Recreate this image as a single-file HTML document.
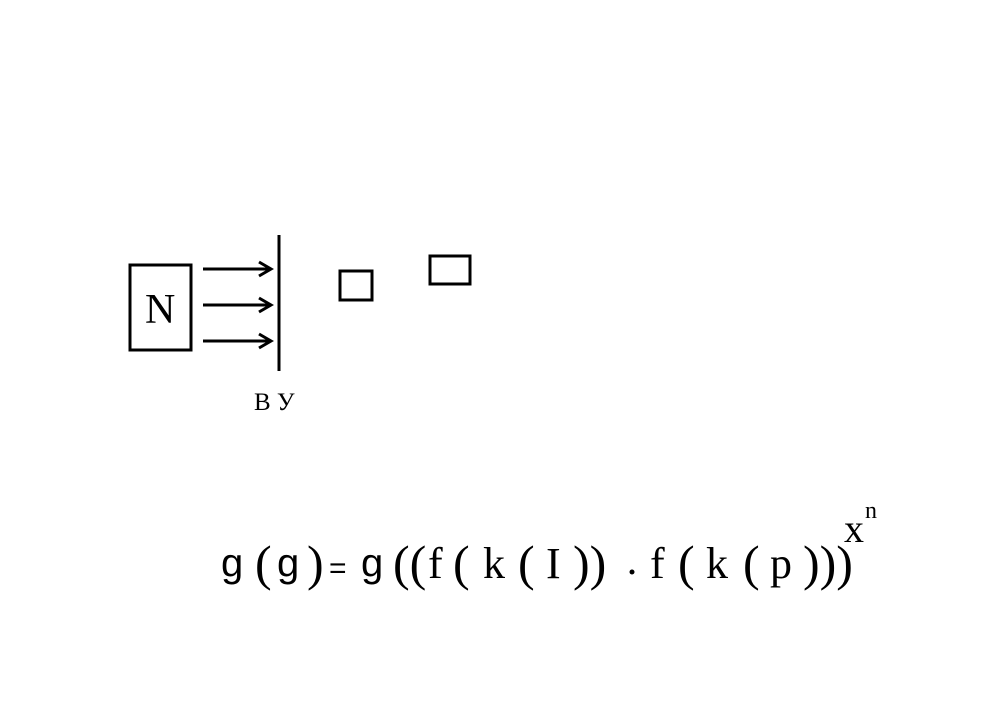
<!DOCTYPE html>
<html><head><meta charset="utf-8"><style>body{margin:0;background:#fff}svg{display:block}</style></head>
<body>
<svg width="1000" height="720" xmlns="http://www.w3.org/2000/svg">
<rect width="1000" height="720" fill="#fff"/>
<g fill="none" stroke="#000" stroke-width="3">
<rect x="130" y="265" width="61" height="85"/>
<line x1="279" y1="235" x2="279" y2="371"/>
<rect x="340" y="271" width="32" height="29"/>
<rect x="430" y="256" width="40" height="28"/>
<line x1="203" y1="269" x2="270" y2="269"/>
<line x1="203" y1="305" x2="270" y2="305"/>
<line x1="203" y1="341" x2="270" y2="341"/>
<polyline points="259,262 271,269 259,276"/>
<polyline points="259,298 271,305 259,312"/>
<polyline points="259,334 271,341 259,348"/>
</g>
<g font-family="Liberation Serif, serif" fill="#000">
<text x="145" y="323" font-size="42">N</text>
<text x="254" y="410" font-size="25">В У</text>
</g>
<g font-family="Liberation Sans, sans-serif" font-size="40" fill="#000">
<text x="221" y="576">g</text>
<text x="277" y="576">g</text>
<text x="361" y="576">g</text>
<text x="329" y="578" font-size="30">=</text>
</g>
<g font-family="Liberation Serif, serif" font-size="50" fill="#000">
<text x="255" y="580">(</text>
<text x="307" y="580">)</text>
<text x="393" y="580">((</text>
<text x="428" y="578" font-size="44">f</text>
<text x="453" y="580">(</text>
<text x="483" y="578" font-size="44">k</text>
<text x="518" y="580">(</text>
<text x="546" y="578" font-size="44">I</text>
<text x="573" y="580">))</text>
<circle cx="632" cy="572" r="2.5"/>
<text x="650" y="578" font-size="44">f</text>
<text x="678" y="580">(</text>
<text x="706" y="578" font-size="44">k</text>
<text x="743" y="580">(</text>
<text x="770" y="578" font-size="44">p</text>
<text x="803" y="580">)))</text>
<text x="844" y="542" font-size="40">x</text>
<text x="865" y="518" font-size="24">n</text>
</g>
</svg>
</body></html>
